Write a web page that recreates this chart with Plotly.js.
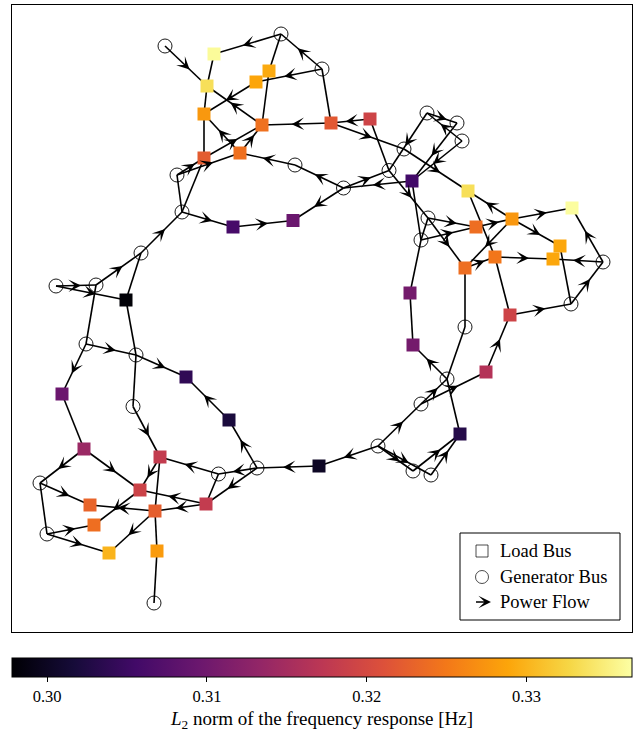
<!DOCTYPE html>
<html><head><meta charset="utf-8">
<script src="https://cdn.plot.ly/plotly-3.0.1.min.js"></script>
<style>html,body{margin:0;padding:0;background:#fff}</style>
</head><body><div id="chart" style="width:634px;height:732px"></div>
<script>
// Generator buses (circles): layout positions G1..G33
const genX = [165,281,322,177,295,343.5,389,404,427,457,462,428,421,603,571,465,447,421,378,413,431,257,218.5,133,136,86,96,56,141,182,40,47,154];
const genY = [46,34,69,175,165,188,170.5,149,113,123,141,218,240,262,304,327,379,404,446,471,475,468,474,406.5,355,344,285,286,253,212,483,534,603];
// Load buses (squares): layout positions L1..L40 and L2 norm values
const loadX = [214,269,256,207,204,262,331,370,240,204,412,468,233,293,476,512,572,560,495,553,465,410,126,510,413,486,186,62,229,460,84,160,319,140,90,206,155,94,109,157];
const loadY = [54,71,82,86,114,125,123,119,153,158,181,191,227,220.5,227,219,208,246,257,259,268,293,300,315,345,372,377,394,420,434,449,457,466,490,505,504,511,525,553,551];
const loadL2 = [0.3362,0.3292,0.3288,0.3335,0.3277,0.3243,0.3219,0.3192,0.3242,0.3222,0.3056,0.3335,0.3060,0.3094,0.3240,0.3276,0.3364,0.3290,0.3248,0.3290,0.3240,0.3104,0.2980,0.3192,0.3104,0.3164,0.3040,0.3095,0.3020,0.3030,0.3140,0.3180,0.3002,0.3190,0.3230,0.3180,0.3225,0.3240,0.3300,0.3280];
// Power flow edges (from -> to)
const edgeFrom = ['G1','G2','G2','G3','G3','L7','L3','L5','L6','L6','L7','L8','L9','L10','L10','L9','G5','G4','G4','G30','G30','G6','G6','L13','G30','G29','L11','G6','G7','G7','L7','G8','G9','G9','G11','G10','G11','L11','G13','G12','G13','G12','L15','L16','L12','L16','L16','L16','L21','L19','G14','G14','G15','G15','L24','L24','G16','G13','L22','G17','G17','L26','G18','G18','L30','G19','G20','G21','G19','G19','G19','L33','G22','L29','G22','G22','G23','G23','L36','L36','G24','G25','G25','L23','G26','G27','G26','L28','L31','L31','L32','L32','L37','L34','L37','L37','G31','G31','G32','G32','G33','G28','G28','G27','G29'];
const edgeTo   = ['L4','L1','L2','G2','L3','G3','L5','L4','L4','L2','L6','L7','L5','L5','L6','L6','L9','L9','L10','G4','L10','G5','L14','L14','L13','G30','G6','G7','L8','G12','G8','L12','G7','G10','G9','L11','L11','G13','G12','L15','L15','L21','L16','L12','L19','L17','L18','L21','L19','L20','L20','L17','G14','L18','G15','L19','L21','L22','L25','L25','G16','L24','L26','G17','G17','G18','L30','L30','G20','G21','L33','G22','L29','L27','G23','L36','L32','L36','L34','L37','L32','G24','L27','G25','G25','G26','L28','L31','G31','L34','L34','L37','L40','L38','L35','L39','L35','G32','L38','L39','L40','G27','L23','G29','L23'];
// Lines drawn without a visible flow arrow
const plainFrom = ['L4'];
const plainTo   = ['L1'];
// Colour bar
const cbMin = 0.2978, cbMax = 0.3366;
const cbTicks = [0.30, 0.31, 0.32, 0.33];
const cbTickText = ['0.30','0.31','0.32','0.33'];
const legendLabels = ['Load Bus','Generator Bus','Power Flow'];

const inferno = [[0,'#000004'],[0.1,'#160b39'],[0.2,'#420a68'],[0.3,'#6a176e'],[0.4,'#932667'],[0.5,'#bc3754'],[0.6,'#dd513a'],[0.7,'#f37819'],[0.8,'#fca50a'],[0.9,'#f6d746'],[1,'#fcffa4']];
const FONT = '"Liberation Serif", serif';

const pos = {};
genX.forEach((x,i)=>{pos['G'+(i+1)] = [x, genY[i]];});
loadX.forEach((x,i)=>{pos['L'+(i+1)] = [x, loadY[i]];});

const ex = [], ey = [], annotations = [];
const AH = {showarrow:true, arrowhead:3, arrowsize:1.5, arrowwidth:1.4, arrowcolor:'#000'};
edgeFrom.forEach((f,i)=>{
  const a = pos[f], b = pos[edgeTo[i]];
  ex.push(a[0], b[0], null); ey.push(a[1], b[1], null);
  const dx = b[0]-a[0], dy = b[1]-a[1], L = Math.hypot(dx,dy);
  const ux = dx/L, uy = dy/L, mx = (a[0]+b[0])/2, my = (a[1]+b[1])/2;
  annotations.push(Object.assign({x: mx+ux*5, y: my+uy*5, ax: mx-ux*6, ay: my-uy*6,
    xref:'x', yref:'y', axref:'x', ayref:'y', text:' '}, AH));
});
plainFrom.forEach((f,i)=>{
  const a = pos[f], b = pos[plainTo[i]];
  ex.push(a[0], b[0], null); ey.push(a[1], b[1], null);
});

// legend
const legX = 482, legTextX = 498, legY = [551, 577, 602];
annotations.push(Object.assign({x: legX+9, y: legY[2], ax: legX-9, ay: legY[2], xref:'x', yref:'y', axref:'x', ayref:'y', text:' '}, AH));
legendLabels.forEach((t,i)=>annotations.push({x: legTextX, y: legY[i], xref:'x', yref:'y', xanchor:'left', yanchor:'middle',
  text:t, showarrow:false, font:{family:FONT, size:18.5, color:'#000'}}));

const traces = [
  {type:'scatter', mode:'lines', x:ex, y:ey, line:{color:'#000', width:1.6}, hoverinfo:'skip', showlegend:false},
  {type:'scatter', mode:'markers', x:genX, y:genY, marker:{symbol:'circle', size:14, color:'rgba(0,0,0,0)', line:{color:'#000', width:0.9}}, showlegend:false},
  {type:'scatter', mode:'markers', x:loadX, y:loadY, showlegend:false,
   marker:{symbol:'square', size:13, color:loadL2, colorscale:inferno, cmin:cbMin, cmax:cbMax, line:{width:0},
     showscale:true,
     colorbar:{orientation:'h', x:0.5, xanchor:'center', y:-0.0415, yanchor:'top', len:1, lenmode:'fraction',
       thickness:19, thicknessmode:'pixels', xpad:0, ypad:0, outlinewidth:1, outlinecolor:'#000',
       ticks:'outside', ticklen:5, tickwidth:1, tickcolor:'#000', tickvals:cbTicks, ticktext:cbTickText,
       tickfont:{family:FONT, size:16.5, color:'#000'},
       title:{text:'<i>L</i><sub>2</sub> norm of the frequency response [Hz]', side:'bottom', font:{family:FONT, size:19, color:'#000'}}}}},
  {type:'scatter', mode:'markers', x:[legX, legX], y:[legY[0], legY[1]], showlegend:false, hoverinfo:'skip',
   marker:{symbol:['square-open','circle-open'], size:[12,13], color:'#000', line:{width:1}}}
];

const layout = {
  width:634, height:732, margin:{l:12, r:2, t:5, b:100, autoexpand:false}, paper_bgcolor:'#fff', plot_bgcolor:'#fff',
  showlegend:false,
  font:{family:FONT, color:'#000'},
  xaxis:{range:[12,632], showgrid:false, zeroline:false, showticklabels:false, ticks:'', showline:true, mirror:true, linecolor:'#000', linewidth:1, fixedrange:true},
  yaxis:{range:[632,5], showgrid:false, zeroline:false, showticklabels:false, ticks:'', showline:true, mirror:true, linecolor:'#000', linewidth:1, fixedrange:true},
  shapes:[{type:'rect', xref:'x', yref:'y', x0:460, x1:620, y0:533, y1:620, line:{color:'#000', width:1}, fillcolor:'#fff', layer:'below'}],
  annotations: annotations
};
Plotly.newPlot('chart', traces, layout, {displayModeBar:false, staticPlot:true});
</script></body></html>
